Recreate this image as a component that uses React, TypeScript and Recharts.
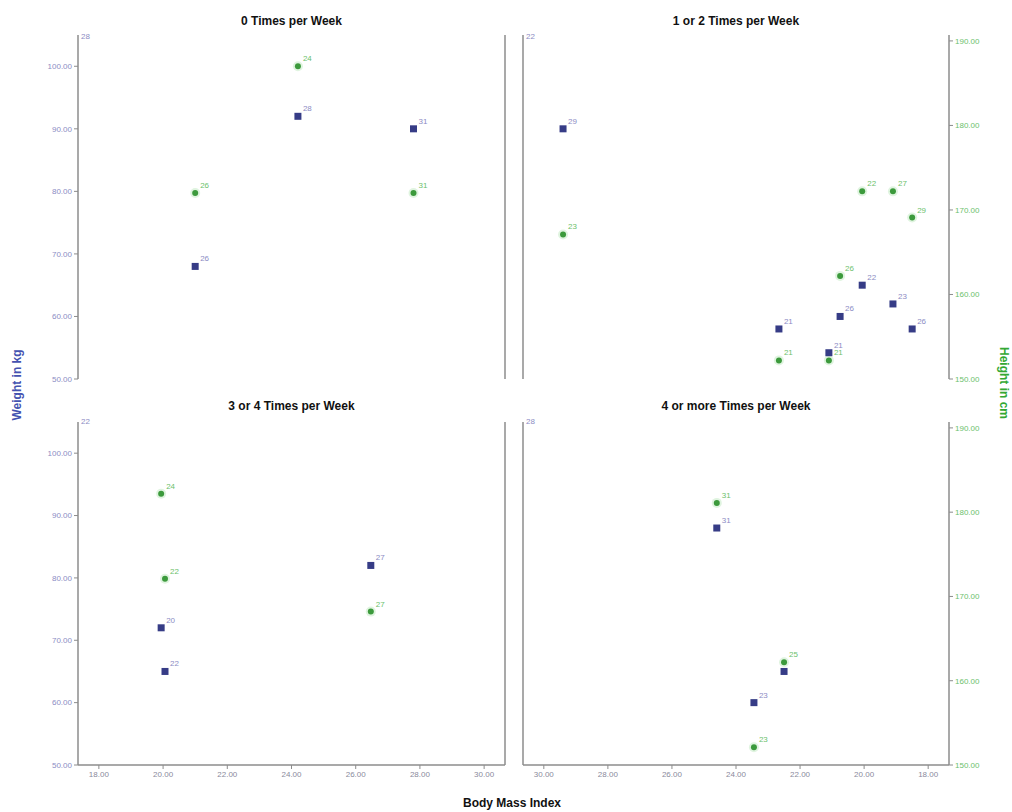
import React from "react";
import {
  ScatterChart,
  Scatter,
  XAxis,
  YAxis,
  LabelList,
} from "recharts";

// panel titles and the stray label drawn in each panel's top-left corner
const panelTitles = [
  "0 Times per Week",
  "1 or 2 Times per Week",
  "3 or 4 Times per Week",
  "4 or more Times per Week",
];
const cornerLabels = ["28", "22", "22", "28"];

// 0 times per week
const bmi0 = [21.0, 24.2, 27.8];
const weight0 = [68, 92, 90];
const weightAge0 = ["26", "28", "31"];
const height0 = [172, 187, 172];
const heightAge0 = ["26", "24", "31"];

// 1 or 2 times per week
const bmi1 = [29.4, 22.66, 21.1, 20.75, 20.06, 19.1, 18.5];
const weight1 = [90, 58, 54.2, 60, 65, 62, 58];
const weightAge1 = ["29", "21", "21", "26", "22", "23", "26"];
const height1 = [167.1, 152.2, 152.2, 162.2, 172.2, 172.2, 169.1];
const heightAge1 = ["23", "21", "21", "26", "22", "27", "29"];

// 3 or 4 times per week
const bmi2 = [19.94, 20.06, 26.47];
const weight2 = [72, 65, 82];
const weightAge2 = ["20", "22", "27"];
const height2 = [182.2, 172.1, 168.2];
const heightAge2 = ["24", "22", "27"];

// 4 or more times per week
const bmi3 = [24.6, 22.5, 23.44];
const weight3 = [88, 65, 60];
const weightAge3 = ["31", "", "23"];
const height3 = [181.1, 162.2, 152.1];
const heightAge3 = ["31", "25", "23"];

const bmiTicks = [18, 20, 22, 24, 26, 28, 30];
const weightTicks = [50, 60, 70, 80, 90, 100];
const heightTicks = [150, 160, 170, 180, 190];

const BLUE = "#363c86";
const BLUE_TEXT = "#8c8cc4";
const GREEN = "#3c9a3c";
const GREEN_TEXT = "#6cbf6c";
const AXIS = "#8c8c8c";
const FONT = "Arial, 'Liberation Sans', sans-serif";

const toRows = (x: number[], v: number[], age: string[]) =>
  x.map((b, i) => ({ bmi: b, v: v[i], age: age[i] }));

const panels = [
  { w: toRows(bmi0, weight0, weightAge0), h: toRows(bmi0, height0, heightAge0) },
  { w: toRows(bmi1, weight1, weightAge1), h: toRows(bmi1, height1, heightAge1) },
  { w: toRows(bmi2, weight2, weightAge2), h: toRows(bmi2, height2, heightAge2) },
  { w: toRows(bmi3, weight3, weightAge3), h: toRows(bmi3, height3, heightAge3) },
];

const Square = (p: any) => (
  <rect x={p.cx - 3.5} y={p.cy - 3.5} width={7} height={7} fill={BLUE} />
);
const Dot = (p: any) => (
  <g>
    <circle cx={p.cx} cy={p.cy} r={5} fill="#e0f4e0" />
    <circle cx={p.cx} cy={p.cy} r={3} fill={GREEN} />
  </g>
);

const pointLabel = (color: string) => (p: any) => {
  const cx = p.x + (p.width || 0) / 2;
  const cy = p.y + (p.height || 0) / 2;
  if (!p.value) return null;
  return (
    <text x={cx + 5} y={cy - 5} fontSize={8} fill={color} fontFamily={FONT}>
      {p.value}
    </text>
  );
};

const fmt = (v: number) => v.toFixed(2);

function Panel({ idx }: { idx: number }) {
  const right = idx % 2 === 1;
  const bottom = idx >= 2;
  const width = right ? 512 : 520;
  const height = bottom ? 422 : 400;
  const data = panels[idx];
  return (
    <div
      style={{
        position: "absolute",
        left: right ? 500 : 0,
        top: bottom ? 390 : 0,
        width,
        height,
      }}
    >
      <ScatterChart
        width={width}
        height={height}
        margin={{ top: bottom ? 32 : 35, right: right ? 0 : 14, bottom: bottom ? 17 : 21, left: 0 }}
      >
        <XAxis
          type="number"
          dataKey="bmi"
          domain={[17.35, 30.65]}
          ticks={bmiTicks}
          reversed={right}
          height={bottom ? 30 : 0}
          tick={bottom ? { fontSize: 8, fill: "#8a8a9c", fontFamily: FONT } : false}
          tickFormatter={fmt}
          tickLine={bottom ? { stroke: AXIS } : false}
          tickSize={4}
          axisLine={{ stroke: AXIS, strokeWidth: 1.5 }}
        />
        <YAxis
          yAxisId="w"
          type="number"
          dataKey="v"
          orientation="left"
          domain={[50, 105]}
          ticks={weightTicks}
          width={right ? 23 : 78}
          tick={right ? false : { fontSize: 8, fill: BLUE_TEXT, fontFamily: FONT }}
          tickFormatter={fmt}
          tickLine={right ? false : { stroke: AXIS }}
          tickSize={4}
          axisLine={{ stroke: AXIS, strokeWidth: 1.5 }}
        />
        <YAxis
          yAxisId="h"
          type="number"
          dataKey="v"
          orientation="right"
          domain={[150, 190.7]}
          ticks={heightTicks}
          width={right ? 63 : 1}
          tick={right ? { fontSize: 8, fill: GREEN_TEXT, fontFamily: FONT } : false}
          tickFormatter={fmt}
          tickLine={right ? { stroke: AXIS } : false}
          tickSize={4}
          axisLine={{ stroke: AXIS, strokeWidth: 1.5 }}
        />
        <Scatter
          yAxisId="h"
          data={data.h}
          shape={Dot}
          isAnimationActive={false}
        >
          <LabelList dataKey="age" content={pointLabel(GREEN_TEXT)} />
        </Scatter>
        <Scatter
          yAxisId="w"
          data={data.w}
          shape={Square}
          isAnimationActive={false}
        >
          <LabelList dataKey="age" content={pointLabel(BLUE_TEXT)} />
        </Scatter>
      </ScatterChart>
      <div
        style={{
          position: "absolute",
          left: right ? 23 : 78,
          width: right ? 426 : 427,
          top: bottom ? 9 : 14,
          textAlign: "center",
          fontFamily: FONT,
          fontWeight: "bold",
          fontSize: 12,
          color: "#111",
        }}
      >
        {panelTitles[idx]}
      </div>
      <div
        style={{
          position: "absolute",
          left: (right ? 23 : 78) + 3,
          top: bottom ? 27 : 32,
          fontFamily: FONT,
          fontSize: 8,
          color: BLUE_TEXT,
        }}
      >
        {cornerLabels[idx]}
      </div>
    </div>
  );
}

export default function App() {
  return (
    <div
      style={{
        position: "absolute",
        left: 0,
        top: 0,
        width: 1012,
        height: 812,
        background: "#fff",
        overflow: "hidden",
      }}
    >
      {[0, 1, 2, 3].map((i) => (
        <Panel key={i} idx={i} />
      ))}
      <div
        style={{
          position: "absolute",
          left: 17,
          top: 385,
          transform: "translate(-50%, -50%) rotate(-90deg)",
          whiteSpace: "nowrap",
          fontFamily: FONT,
          fontWeight: "bold",
          fontSize: 12,
          color: "#4452b0",
        }}
      >
        Weight in kg
      </div>
      <div
        style={{
          position: "absolute",
          left: 1004,
          top: 383,
          transform: "translate(-50%, -50%) rotate(90deg)",
          whiteSpace: "nowrap",
          fontFamily: FONT,
          fontWeight: "bold",
          fontSize: 12,
          color: "#33a833",
        }}
      >
        Height in cm
      </div>
      <div
        style={{
          position: "absolute",
          left: 0,
          width: 1024,
          top: 796,
          textAlign: "center",
          fontFamily: FONT,
          fontWeight: "bold",
          fontSize: 12,
          color: "#111",
        }}
      >
        Body Mass Index
      </div>
    </div>
  );
}
